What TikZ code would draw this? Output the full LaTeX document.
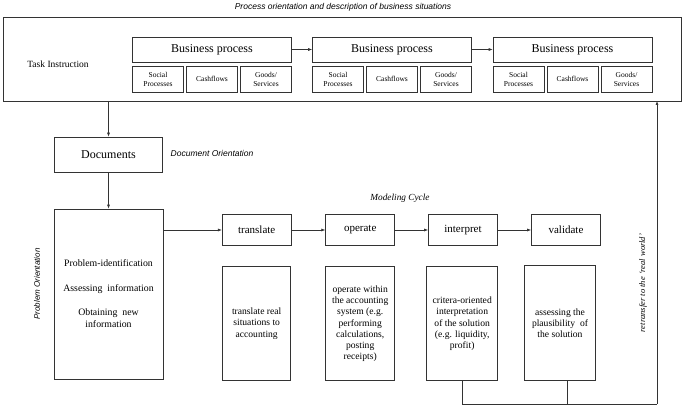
\documentclass[tikz,border=0pt]{standalone}
\usepackage{fontspec}
\setmainfont{Liberation Serif}
\setsansfont{Liberation Sans}
\usetikzlibrary{arrows.meta}
\begin{document}
\begin{tikzpicture}[x=1pt,y=-1pt,
  box/.style={draw=black!80, line width=0.6pt, inner sep=0pt, align=center},
  bp/.style={box, minimum width=159pt, minimum height=25pt, font=\fontsize{12}{14}\selectfont},
  sub/.style={box, minimum width=51pt, minimum height=26pt, font=\fontsize{7.5}{9}\selectfont},
  stage/.style={box, minimum width=69pt, minimum height=31.5pt, font=\fontsize{11}{13}\selectfont},
  desc/.style={box, minimum width=70pt, minimum height=114pt, font=\fontsize{9.6}{11.3}\selectfont},
  lab/.style={inner sep=0pt, font=\sffamily\itshape\fontsize{8.5}{10}\selectfont},
  slab/.style={inner sep=0pt, font=\itshape\fontsize{9.3}{11}\selectfont},
  arr/.style={draw=black!80, line width=0.6pt, -{Latex[length=4pt,width=3pt]}},
  ln/.style={draw=black!80, line width=0.6pt}]
\useasboundingbox (0,0) rectangle (685,409);

\node[lab] (title) at (343,7) {Process orientation and description of business situations};
\node[box, minimum width=678pt, minimum height=84pt] (outer) at (342,59) {};
\node[inner sep=0pt, font=\fontsize{9.5}{11}\selectfont] (task) at (58,64) {Task Instruction};

\node[bp] (bp1) at (212,49.5) {Business process};
\node[bp] (bp2) at (392,49.5) {Business process};
\node[bp] (bp3) at (572.5,49.5) {Business process};

\node[sub] (s11) at (158,79) {Social\\Processes};
\node[sub] (s12) at (212,79) {Cashflows};
\node[sub] (s13) at (266,79) {Goods/\\Services};
\node[sub] (s21) at (338,79) {Social\\Processes};
\node[sub] (s22) at (392,79) {Cashflows};
\node[sub] (s23) at (446,79) {Goods/\\Services};
\node[sub] (s31) at (518.5,79) {Social\\Processes};
\node[sub] (s32) at (572.5,79) {Cashflows};
\node[sub] (s33) at (626.5,79) {Goods/\\Services};

\draw[arr] (bp1) -- (bp2);
\draw[arr] (bp2) -- (bp3);

\node[box, minimum width=108pt, minimum height=35pt, font=\fontsize{12}{14}\selectfont] (docs) at (108.5,154.5) {Documents};
\node[lab] (docor) at (212,153) {Document Orientation};
\coordinate (outdown) at (108.5,101);
\draw[arr] (outdown) -- (docs.north);

\node[box, minimum width=109pt, minimum height=170pt, font=\fontsize{9.8}{12}\selectfont] (prob) at (108.5,294) {Problem-identification\\[13pt]Assessing\ \ information\\[12pt]Obtaining\ \ new\\information};
\draw[arr] (docs) -- (prob);
\node[lab, font=\sffamily\itshape\fontsize{8}{10}\selectfont, rotate=90] (probor) at (37,284) {Problem Orientation};

\node[slab] (mc) at (400,198) {Modeling Cycle};

\node[stage] (tr) at (256.7,230) {translate};
\node[stage] (op) at (360.2,230) {operate};
\node[stage] (in) at (463,230) {interpret};
\node[stage] (va) at (566,230) {validate};

\coordinate (probout) at (163,230);
\draw[arr] (probout) -- (tr);
\draw[arr] (tr) -- (op);
\draw[arr] (op) -- (in);
\draw[arr] (in) -- (va);

\node[desc, minimum width=68pt] (dtr) at (256.7,323.7) {translate real\\situations\ to\\accounting};
\node[desc, minimum width=69pt] (dop) at (360.2,323.7) {operate within\\the accounting\\system (e.g.\\performing\\calculations,\\posting\\receipts)};
\node[desc, minimum width=71pt] (din) at (462.2,323.7) {critera-oriented\\interpretation\\of the solution\\(e.g. liquidity,\\profit)};
\node[desc, minimum width=71.4pt, minimum height=115pt] (dva) at (560,323.2) {assessing the\\plausibility\ \ of\\the solution};

\coordinate (c1) at (462.3,404);
\coordinate (c2) at (567.3,404);
\coordinate (c3) at (657,404);
\coordinate (c4) at (657,101);
\draw[ln] (din.south -| c1) -- (c1) -- (c3);
\draw[ln] (dva.south -| c2) -- (c2);
\draw[arr] (c3) -- (c4);

\node[slab, font=\itshape\fontsize{8.5}{10}\selectfont, rotate=90] (retr) at (643,283) {retransfer to the `real world'};
\end{tikzpicture}
\end{document}
